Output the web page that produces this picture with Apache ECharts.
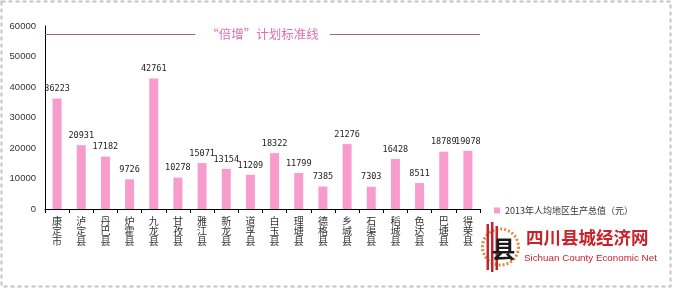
<!DOCTYPE html>
<html><head><meta charset="utf-8">
<script src="https://cdn.jsdelivr.net/npm/echarts@6/dist/echarts.min.js"></script>
<style>html,body{margin:0;padding:0;background:#fff}#c{width:673px;height:289px}</style>
</head><body><div id="c"></div>
<script>
var categories = ['康定市','泸定县','丹巴县','炉霍县','九龙县','甘孜县','雅江县','新龙县','道孚县','白玉县','理塘县','德格县','乡城县','石渠县','稻城县','色达县','巴塘县','得荣县'];
var gdpPerCapita = [36223,20931,17182,9726,42761,10278,15071,13154,11209,18322,11799,7385,21276,7303,16428,8511,18789,19078];
var yTicks = [0,10000,20000,30000,40000,50000,60000];
var targetLine = 57400;
var seriesName = '2013年人均地区生产总值（元）';
var lineLabel = '“倍增”计划标准线';

var chart = echarts.init(document.getElementById('c'));
chart.setOption({
  backgroundColor: '#fff',
  animation: false,
  grid: {left: 45, right: 193, top: 26, bottom: 80},
  legend: {
    data: [seriesName], left: 489, top: 201, itemWidth: 6, itemHeight: 6, itemGap: 2,
    icon: 'rect', textStyle: {fontSize: 9, color: '#333', fontFamily: 'Noto Sans CJK SC'}
  },
  xAxis: {
    type: 'category', data: categories,
    axisLine: {lineStyle: {color: '#000', width: 1}},
    axisTick: {show: true, length: 4, lineStyle: {color: '#000'}},
    axisLabel: {
      interval: 0, margin: 7, fontSize: 10, lineHeight: 10, color: '#333',
      fontFamily: 'Noto Sans CJK SC',
      formatter: function (v) { return v.split('').join('\n'); }
    }
  },
  yAxis: {
    type: 'value', min: yTicks[0], max: yTicks[yTicks.length - 1], interval: 10000,
    splitLine: {show: false},
    axisLine: {show: true, lineStyle: {color: '#000'}},
    axisTick: {show: false},
    axisLabel: {fontSize: 9.5, color: '#333', margin: 9, fontFamily: 'Liberation Sans',
      formatter: function (v) { return String(v); }}
  },
  series: [{
    name: seriesName, type: 'bar', data: gdpPerCapita, barWidth: 9,
    itemStyle: {color: '#f79ccc'},
    label: {show: true, position: 'top', distance: 5, fontSize: 8.5, color: '#222', fontFamily: 'DejaVu Sans Mono'},
    markLine: {
      silent: true, symbol: 'none',
      lineStyle: {color: '#a8628a', type: 'solid', width: 1},
      label: {
        show: true, position: 'middle', distance: 0, verticalAlign: 'middle', formatter: lineLabel, color: '#de6fb3',
        fontSize: 12.5, fontFamily: 'Noto Sans CJK SC', backgroundColor: '#fff', padding: [2, 11]
      },
      data: [{yAxis: targetLine}]
    }
  }],
  graphic: [
    {type: 'rect', shape: {x: 1.5, y: 1.5, width: 669, height: 285}, style: {fill: 'none', stroke: '#c4c4c4', lineWidth: 2, lineDash: [4, 3]}},
    {type: 'group', left: 480, top: 222, children: [
      {type: 'circle', shape: {cx: 22, cy: 25, r: 18}, style: {fill: 'none', stroke: '#e08a3a', lineWidth: 3, lineDash: [2, 2]}},
      {type: 'rect', shape: {x: 8, y: 2, width: 2.5, height: 46}, style: {fill: '#c8232c'}},
      {type: 'rect', shape: {x: 12.5, y: 0, width: 2.5, height: 50}, style: {fill: '#c8232c'}},
      {type: 'rect', shape: {x: 17, y: 4, width: 2.5, height: 44}, style: {fill: '#c8232c'}},
      {type: 'text', style: {x: 25, y: 27, text: '县', fill: '#1a1a1a', fontSize: 24, fontWeight: 'bold', fontFamily: 'Noto Sans CJK SC', align: 'center', verticalAlign: 'middle'}}
    ]},
    {type: 'text', left: 526, top: 229, style: {text: '四川县城经济网', fill: '#c8232c', fontSize: 17.5, fontWeight: 'bold', fontFamily: 'Noto Sans CJK SC'}},
    {type: 'text', left: 524, top: 253, style: {text: 'Sichuan County Economic Net', fill: '#c8232c', fontSize: 9.8, fontFamily: 'Liberation Sans'}}
  ]
});
</script></body></html>
